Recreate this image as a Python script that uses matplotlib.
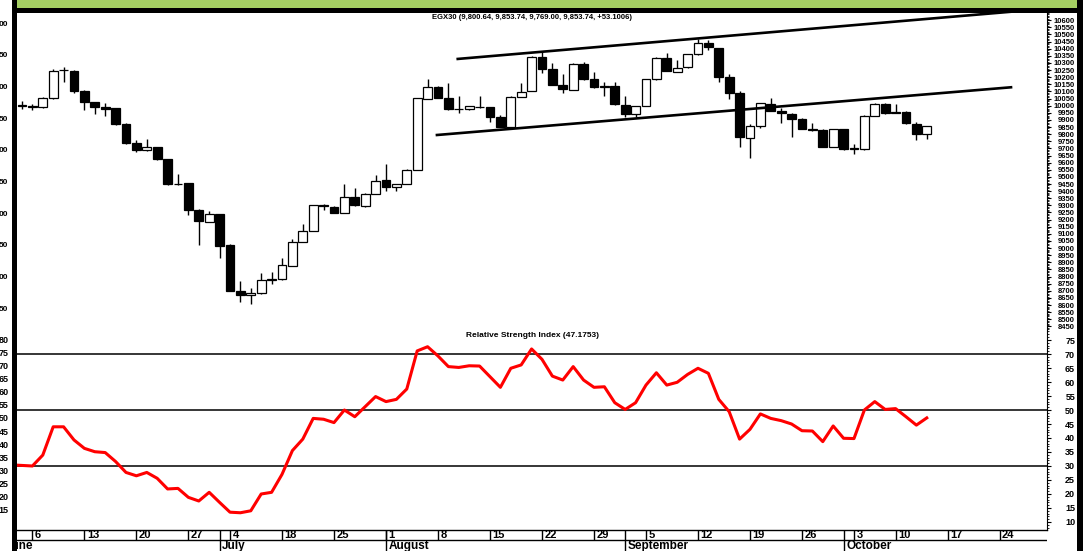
import numpy as np
import matplotlib
matplotlib.use("Agg")
import matplotlib.pyplot as plt
from matplotlib.patches import Rectangle
from matplotlib.transforms import offset_copy

plt.rcParams['font.family'] = ['Liberation Sans', 'DejaVu Sans']

# EGX30 daily candles (index 1..88)
opens = [10008, 10001, 9989, 10052, 10247, 10246, 10105, 10024, 9989, 9982,
         9874, 9736, 9689, 9708, 9624, 9448, 9455, 9268, 9186, 9238,
         9022, 8699, 8669, 8683, 8778, 8783, 8875, 9045, 9120, 9301,
         9287, 9245, 9361, 9296, 9380, 9478, 9431, 9448, 9549, 10049,
         10133, 10056, 9975, 9975, 9994, 9993, 9919, 9853, 10063, 10103,
         10344, 10256, 10145, 10110, 10293, 10185, 10136, 10138, 10005, 9942,
         10000, 10185, 10337, 10239, 10270, 10361, 10438, 10403, 10204, 10087,
         9771, 9860, 10012, 9965, 9942, 9907, 9836, 9829, 9712, 9834,
         9703, 9696, 9930, 10012, 9952, 9954, 9871, 9800.64]
highs = [10035, 10012, 10061, 10256, 10272, 10251, 10110, 10029, 10017, 9984,
         9875, 9757, 9764, 9710, 9626, 9521, 9457, 9275, 9261, 9240,
         9026, 8769, 8722, 8823, 8835, 8933, 9062, 9170, 9306, 9310,
         9296, 9448, 9420, 9384, 9513, 9591, 9450, 9552, 10054, 10185,
         10138, 10161, 10068, 10001, 10070, 9994, 9935, 10068, 10161, 10349,
         10379, 10298, 10223, 10296, 10305, 10239, 10168, 10168, 10068, 10001,
         10187, 10340, 10368, 10321, 10363, 10466, 10461, 10405, 10223, 10105,
         9871, 10019, 10052, 9982, 9945, 9910, 9876, 9833, 9836, 9836,
         9731, 9933, 10016, 10016, 10010, 9965, 9883, 9853.74]
lows = [9979, 9970, 9982, 10050, 10166, 10091, 9970, 9940, 9930, 9864,
        9729, 9677, 9685, 9619, 9443, 9443, 9233, 9020, 9180, 8933,
        8696, 8624, 8608, 8678, 8748, 8776, 8871, 9043, 9117, 9268,
        9247, 9243, 9296, 9292, 9377, 9403, 9401, 9447, 9545, 10047,
        10054, 9973, 9947, 9973, 9987, 9888, 9847, 9850, 10061, 10100,
        10232, 10142, 10091, 10107, 10182, 10126, 10068, 10006, 9923, 9919,
        9998, 10182, 10240, 10237, 10266, 10357, 10391, 10168, 10045, 9712,
        9635, 9841, 9963, 9881, 9782, 9833, 9825, 9709, 9709, 9692,
        9661, 9692, 9928, 9943, 9945, 9873, 9759, 9769.00]
closes = [9998, 9994, 10056, 10246, 10251, 10105, 10024, 9993, 9979, 9871,
          9736, 9689, 9708, 9624, 9450, 9450, 9268, 9191, 9238, 9017,
          8699, 8671, 8683, 8776, 8781, 8880, 9045, 9120, 9303, 9298,
          9249, 9361, 9303, 9380, 9473, 9431, 9448, 9549, 10052, 10129,
          10056, 9977, 9977, 9998, 9992, 9923, 9853, 10063, 10098, 10344,
          10256, 10145, 10115, 10293, 10185, 10129, 10132, 10010, 9942, 9998,
          10185, 10337, 10244, 10267, 10361, 10442, 10414, 10204, 10087, 9778,
          9860, 10017, 9965, 9947, 9905, 9836, 9832, 9712, 9834, 9696,
          9699, 9930, 10012, 9947, 9949, 9876, 9801, 9853.74]

# RSI, first value belongs to the day before the first candle
rsi = [30.4, 30.2, 30.0, 33.9, 44.0, 44.0, 39.3, 36.3, 35.1, 34.8,
       31.6, 27.7, 26.5, 27.7, 25.6, 21.8, 22.0, 18.8, 17.5, 20.6,
       17.0, 13.5, 13.3, 14.0, 20.0, 20.6, 27.0, 35.5, 39.6, 47.0,
       46.7, 45.5, 50.0, 47.6, 51.2, 54.8, 53.0, 53.8, 57.5, 71.1,
       72.6, 69.3, 65.5, 65.2, 65.8, 65.7, 61.9, 58.1, 64.9, 66.1,
       71.8, 68.1, 62.1, 60.7, 65.5, 60.7, 58.1, 58.3, 52.6, 50.2,
       52.6, 58.9, 63.3, 58.9, 59.9, 62.7, 64.9, 63.1, 53.8, 49.4,
       39.6, 43.1, 48.6, 47.0, 46.2, 45.0, 42.6, 42.5, 38.7, 44.3,
       39.9, 39.8, 50.0, 53.0, 50.2, 50.5, 47.6, 44.6, 47.18]
rsi_levels = [30, 50, 70]

# channel lines (day index, price)
upper_x = [42.9, 97.0]
upper_y = [10328, 10665]
lower_x = [40.9, 96.1]
lower_y = [9794, 10129]

day_pos = [2, 7, 12, 17, 21, 26, 31, 36, 41, 46, 51, 56, 61, 66, 71, 76, 81, 85, 90, 95]
day_labels = ["6", "13", "20", "27", "4", "18", "25", "1", "8", "15",
              "22", "29", "5", "12", "19", "26", "3", "10", "17", "24"]
month_pos = [-0.8, 20, 36, 59, 80]
month_labels = ["June", "July", "August", "September", "October"]

left_top_labels = ["00", "50", "00", "50", "00", "50", "00", "50", "00", "50"]
left_rsi_ticks = [80, 75, 70, 65, 60, 55, 50, 45, 40, 35, 30, 25, 20, 15]

title_price = "EGX30 (9,800.64, 9,853.74, 9,769.00, 9,853.74, +53.1006)"
title_rsi = "Relative Strength Index (47.1753)"

W, H = 1083, 551
fig = plt.figure(figsize=(W / 100, H / 100), dpi=100)


def box(x0, y0, x1, y1):
    return [x0 / W, 1 - y1 / H, (x1 - x0) / W, (y1 - y0) / H]


XL = (0.52, 99.56)
ax = fig.add_axes(box(17, 12.5, 1047, 332))
ax_r = fig.add_axes(box(17, 332, 1047, 530))
ax_d = fig.add_axes(box(17, 530, 1047, 551))

# ---- price pane
ax_l = ax.twinx()
days = np.arange(1, len(closes) + 1)
o = np.array(opens)
c = np.array(closes)
ax.vlines(days, lows, highs, color='black', lw=1.0, zorder=2)
ax.bar(days, np.abs(c - o), bottom=np.minimum(o, c), width=0.84,
       color=np.where(c >= o, 'white', 'black'), edgecolor='black',
       linewidth=0.9, zorder=3)
ax.plot(upper_x, upper_y, color='black', lw=1.9, zorder=4)
ax.plot(lower_x, lower_y, color='black', lw=1.9, zorder=4)
ax.set_xlim(*XL)
ax.set_ylim(8411, 10654)
ax.set_xticks([])
for s in ['left', 'top', 'bottom']:
    ax.spines[s].set_visible(False)
ax.spines['right'].set_linewidth(0.8)
ax.yaxis.tick_right()
pt = np.arange(8450, 10601, 50)
ax.set_yticks(pt, [str(v) for v in pt], ha='right', fontsize=5.5, fontweight='bold')
ax.set_yticks(np.arange(8420, 10651, 10), minor=True)
ax.tick_params(axis='y', which='major', length=3, width=0.8, pad=17.2)
ax.tick_params(axis='y', which='minor', length=1.5, width=0.6)
ax.text(0.5, 0.983, title_price, transform=ax.transAxes, ha='center', va='center',
        fontsize=5.5, fontweight='bold')

ax_l.yaxis.tick_left()
ax_l.set_ylim(9.747, -0.341)
ax_l.set_yticks(range(len(left_top_labels)), left_top_labels, fontsize=6, fontweight='bold')
ax_l.tick_params(axis='y', length=0, pad=6.1)
for s in ax_l.spines.values():
    s.set_visible(False)

# ---- RSI pane
ax_rl = ax_r.twinx()
ax_r.plot(np.arange(len(rsi)), rsi, color='#ff0000', lw=2.2, zorder=3)
for lv in rsi_levels:
    ax_r.axhline(lv, color='black', lw=1.1, zorder=2)
ax_r.set_xlim(*XL)
ax_r.set_ylim(7.14, 77.86)
ax_r.set_xticks([])
for s in ['left', 'top']:
    ax_r.spines[s].set_visible(False)
ax_r.spines['right'].set_linewidth(0.8)
ax_r.spines['bottom'].set_linewidth(1.0)
ax_r.yaxis.tick_right()
rt = np.arange(10, 76, 5)
ax_r.set_yticks(rt, [str(v) for v in rt], ha='right', fontsize=6.5, fontweight='bold')
ax_r.set_yticks(np.arange(8, 78, 1), minor=True)
ax_r.tick_params(axis='y', which='major', length=3, width=0.8, pad=17.2)
ax_r.tick_params(axis='y', which='minor', length=1.5, width=0.6)
ax_r.text(0.5, 0.98, title_rsi, transform=ax_r.transAxes, ha='center', va='center',
          fontsize=6, fontweight='bold')

ax_rl.yaxis.tick_left()
ax_rl.set_ylim(7.21, 82.8)
ax_rl.set_yticks(left_rsi_ticks, [str(v) for v in left_rsi_ticks], fontsize=6.5, fontweight='bold')
ax_rl.tick_params(axis='y', length=0, pad=6.1)
for s in ax_rl.spines.values():
    s.set_visible(False)

# ---- date strip
ax_d.set_xlim(*XL)
ax_d.set_ylim(0, 1)
ax_d.axis('off')
ax_d.axhline(0.524, color='black', lw=1.0)
ax_d.vlines(day_pos, 0.524, 1, color='black', lw=1.0)
ax_d.vlines(month_pos[1:], 0, 1, color='black', lw=1.0)
shift = offset_copy(ax_d.transData, fig=fig, x=2.5, y=0, units='dots')
for p, lab in zip(day_pos, day_labels):
    ax_d.text(p, 0.77, lab, transform=shift, ha='left', va='center',
              fontsize=8, fontweight='bold', clip_on=True)
for p, lab in zip(month_pos, month_labels):
    ax_d.text(p, 0.25, lab, transform=shift, ha='left', va='center',
              fontsize=8.5, fontweight='bold', clip_on=True)

# ---- window frame
frame = [((17, 0), 1060, 8, '#a4cf63'),
         ((12, 8), 1071, 4.5, 'black'),
         ((12, 0), 5, 551, 'black'),
         ((1077, 0), 6, 551, 'black')]
for (x0, y0), w, h, col in frame:
    fig.add_artist(Rectangle((x0 / W, 1 - (y0 + h) / H), w / W, h / H,
                             transform=fig.transFigure, color=col, lw=0))

fig.savefig("out.png", dpi=100)
